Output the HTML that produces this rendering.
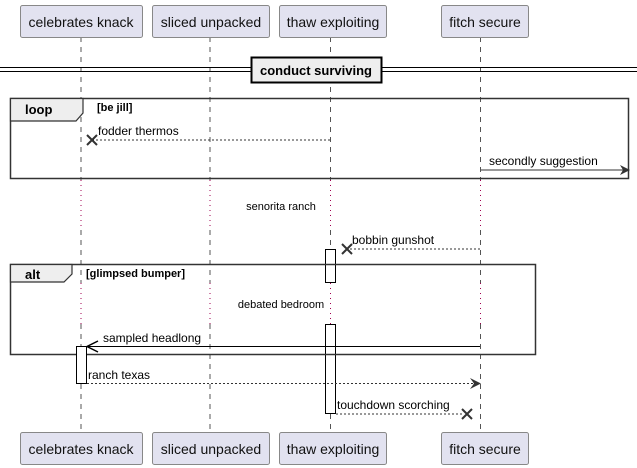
<!DOCTYPE html>
<html><head><style>body{margin:0;background:#fff}svg{display:block}text{font-family:"Liberation Sans",sans-serif}</style></head><body>
<svg width="637" height="468" viewBox="0 0 637 468" xmlns="http://www.w3.org/2000/svg">
<g stroke="#555" stroke-dasharray="5 5" stroke-width="1">
<line x1="81" y1="37" x2="81" y2="180"/><line x1="210" y1="37" x2="210" y2="180"/><line x1="330.5" y1="37" x2="330.5" y2="180"/><line x1="480.5" y1="37" x2="480.5" y2="180"/>
<line x1="81" y1="230" x2="81" y2="283"/><line x1="210" y1="230" x2="210" y2="283"/><line x1="330.5" y1="230" x2="330.5" y2="283"/><line x1="480.5" y1="230" x2="480.5" y2="283"/>
<line x1="81" y1="324" x2="81" y2="432"/><line x1="210" y1="324" x2="210" y2="432"/><line x1="330.5" y1="324" x2="330.5" y2="432"/><line x1="480.5" y1="324" x2="480.5" y2="432"/>
</g>
<g stroke="#a00050" stroke-dasharray="1 4" stroke-width="1">
<line x1="81" y1="180" x2="81" y2="230"/><line x1="210" y1="180" x2="210" y2="230"/><line x1="330.5" y1="180" x2="330.5" y2="230"/><line x1="480.5" y1="180" x2="480.5" y2="230"/>
<line x1="81" y1="283" x2="81" y2="324"/><line x1="210" y1="283" x2="210" y2="324"/><line x1="330.5" y1="283" x2="330.5" y2="324"/><line x1="480.5" y1="283" x2="480.5" y2="324"/>
</g>
<text x="281" y="210" font-size="11" text-anchor="middle">senorita ranch</text>
<text x="281" y="308" font-size="11" text-anchor="middle">debated bedroom</text>
<g fill="#e2e2f0" stroke="#888" stroke-width="1">
<rect x="20.5" y="5.5" width="122" height="32" rx="2"/><rect x="152.5" y="5.5" width="117" height="32" rx="2"/><rect x="279.5" y="5.5" width="107" height="32" rx="2"/><rect x="441.5" y="5.5" width="87" height="32" rx="2"/>
<rect x="20.5" y="432.5" width="122" height="32" rx="2"/><rect x="152.5" y="432.5" width="117" height="32" rx="2"/><rect x="279.5" y="432.5" width="107" height="32" rx="2"/><rect x="441.5" y="432.5" width="87" height="32" rx="2"/>
</g>
<g font-size="14" text-anchor="middle" fill="#111">
<text x="81" y="27">celebrates knack</text><text x="211" y="27">sliced unpacked</text><text x="333" y="27">thaw exploiting</text><text x="485" y="27">fitch secure</text>
<text x="81" y="454">celebrates knack</text><text x="211" y="454">sliced unpacked</text><text x="333" y="454">thaw exploiting</text><text x="485" y="454">fitch secure</text>
</g>
<g stroke="#000" stroke-width="1"><line x1="0" y1="67.5" x2="637" y2="67.5"/><line x1="0" y1="71.5" x2="637" y2="71.5"/></g>
<rect x="251.5" y="57.5" width="130" height="25" fill="#eee" stroke="#000" stroke-width="2"/>
<text x="316" y="75" font-size="13" font-weight="bold" text-anchor="middle">conduct surviving</text>
<rect x="10.5" y="98.5" width="618" height="80" fill="none" stroke="#333" stroke-width="1.5"/>
<path d="M10.5 98.5 H83 V113 L76 121 H10.5 Z" fill="#eee" stroke="#333" stroke-width="1.2"/>
<text x="25" y="114" font-size="13" font-weight="bold">loop</text>
<text x="97" y="111" font-size="11" font-weight="bold">[be jill]</text>
<line x1="330" y1="140" x2="92" y2="140" stroke="#333" stroke-dasharray="2 2"/>
<path d="M87 135 L97 145 M97 135 L87 145" stroke="#333" stroke-width="2"/>
<text x="98" y="135" font-size="12">fodder thermos</text>
<line x1="481" y1="170" x2="628" y2="170" stroke="#333"/>
<path d="M620 165 L630 170 L620 175 L623 170 Z" fill="#333"/>
<text x="489" y="165" font-size="12">secondly suggestion</text>
<line x1="480" y1="249" x2="350" y2="249" stroke="#333" stroke-dasharray="2 2"/>
<path d="M342 244 L352 254 M352 244 L342 254" stroke="#333" stroke-width="2"/>
<text x="352" y="244" font-size="12">bobbin gunshot</text>
<rect x="325.5" y="249.5" width="10" height="33" fill="#fff" stroke="#000"/>
<rect x="325.5" y="324.5" width="10" height="89" fill="#fff" stroke="#000"/>
<rect x="10.5" y="264.5" width="525" height="90" fill="none" stroke="#333" stroke-width="1.5"/>
<path d="M10.5 264.5 H72 V274 L64 282 H10.5 Z" fill="#eee" stroke="#333" stroke-width="1.2"/>
<text x="25" y="279" font-size="13" font-weight="bold">alt</text>
<text x="86" y="277" font-size="11" font-weight="bold">[glimpsed bumper]</text>
<line x1="480" y1="346.5" x2="88" y2="346.5" stroke="#000"/>
<path d="M98 341 L87 346.5 L98 352" fill="none" stroke="#000" stroke-width="1.5"/>
<text x="103" y="342" font-size="12">sampled headlong</text>
<rect x="76.5" y="346.5" width="10" height="37" fill="#fff" stroke="#000"/>
<line x1="87" y1="383.5" x2="479" y2="383.5" stroke="#333" stroke-dasharray="2 2"/>
<path d="M470 378 L481 383.5 L470 389 L474 383.5 Z" fill="#333"/>
<text x="88" y="379" font-size="12">ranch texas</text>
<line x1="336" y1="414" x2="462" y2="414" stroke="#333" stroke-dasharray="2 2"/>
<path d="M462 409 L472 419 M472 409 L462 419" stroke="#333" stroke-width="2"/>
<text x="337" y="409" font-size="12">touchdown scorching</text>
</svg>
</body></html>
